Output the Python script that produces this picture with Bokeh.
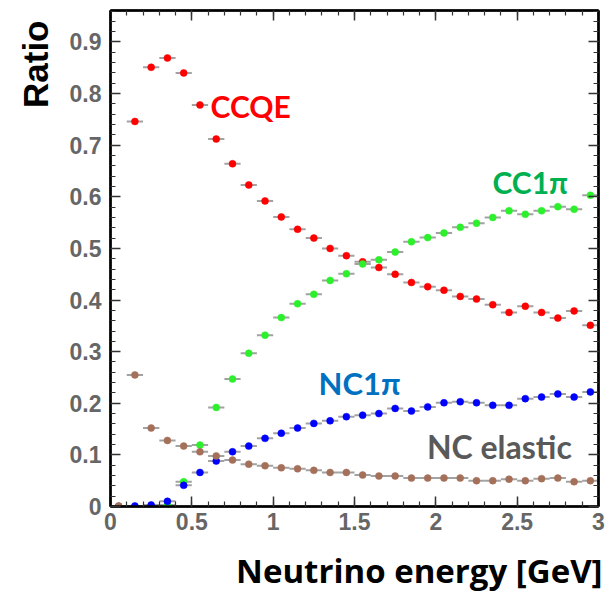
from bokeh.plotting import figure
from bokeh.models import (ColumnDataSource, Label, LinearAxis, SingleIntervalTicker,
                          NumeralTickFormatter, Range1d, Title)
from bokeh.embed import file_html
from bokeh.resources import INLINE

# ---------------- data ----------------
bin_width = 0.1
energy = [0.05, 0.15, 0.25, 0.35, 0.45, 0.55, 0.65, 0.75, 0.85, 0.95,
          1.05, 1.15, 1.25, 1.35, 1.45, 1.55, 1.65, 1.75, 1.85, 1.95,
          2.05, 2.15, 2.25, 2.35, 2.45, 2.55, 2.65, 2.75, 2.85, 2.95]

ccqe = [0.0, 0.746, 0.851, 0.869, 0.840, 0.778, 0.712, 0.664, 0.623, 0.592,
        0.561, 0.537, 0.520, 0.500, 0.486, 0.474, 0.463, 0.450, 0.434, 0.426,
        0.419, 0.407, 0.402, 0.391, 0.376, 0.388, 0.376, 0.365, 0.379, 0.351]

cc1pi = [0.0, 0.0, 0.0, 0.003, 0.048, 0.119, 0.192, 0.247, 0.297, 0.332,
         0.366, 0.393, 0.411, 0.438, 0.451, 0.470, 0.478, 0.493, 0.513, 0.521,
         0.530, 0.541, 0.549, 0.560, 0.573, 0.566, 0.573, 0.581, 0.576, 0.603]

nc1pi = [0.0, 0.001, 0.003, 0.010, 0.041, 0.066, 0.088, 0.106, 0.117, 0.132,
         0.142, 0.152, 0.161, 0.166, 0.174, 0.177, 0.180, 0.190, 0.185, 0.193,
         0.201, 0.203, 0.201, 0.196, 0.196, 0.209, 0.212, 0.218, 0.212, 0.222]

nc_elastic = [0.001, 0.255, 0.152, 0.128, 0.117, 0.106, 0.098, 0.090, 0.082, 0.079,
              0.075, 0.073, 0.070, 0.066, 0.066, 0.061, 0.059, 0.059, 0.055, 0.055,
              0.055, 0.055, 0.050, 0.050, 0.053, 0.050, 0.054, 0.055, 0.048, 0.050]

x_ticks = [0, 0.5, 1, 1.5, 2, 2.5, 3]
y_ticks = [0, 0.1, 0.2, 0.3, 0.4, 0.5, 0.6, 0.7, 0.8, 0.9]

series = [
    ("CCQE", ccqe, "#ff0000"),
    ("CC1π", cc1pi, "#2cf02c"),
    ("NC1π", nc1pi, "#0000ff"),
    ("NC elastic", nc_elastic, "#a4705a"),
]

# ---------------- figure ----------------
p = figure(width=608, height=607, output_backend="svg", toolbar_location=None,
           x_range=Range1d(0, 3), y_range=Range1d(0, 0.961),
           min_border_left=110, min_border_right=10, min_border_top=10,
           min_border_bottom=101, x_axis_type=None, y_axis_type=None)
p.background_fill_color = "white"
p.border_fill_color = "white"
p.outline_line_color = "black"
p.outline_line_width = 2
p.xgrid.visible = False
p.ygrid.visible = False

def style_axis(ax, show_labels):
    ax.axis_line_color = "black"
    ax.axis_line_width = 2.5
    ax.major_tick_in = 10
    ax.major_tick_out = 0
    ax.minor_tick_in = 5
    ax.minor_tick_out = 0
    ax.major_tick_line_color = "#333333"
    ax.minor_tick_line_color = "#333333"
    ax.major_tick_line_width = 1.5
    ax.minor_tick_line_width = 1.2
    if show_labels:
        ax.major_label_text_font = "Liberation Sans"
        ax.major_label_text_font_size = "23px"
        ax.major_label_text_font_style = "bold"
        ax.major_label_text_color = "#666666"
        ax.formatter = NumeralTickFormatter(format="0.[0]")
    else:
        ax.major_label_text_font_size = "0px"
        ax.major_label_text_alpha = 0
        ax.major_label_standoff = 0

xb = LinearAxis(ticker=SingleIntervalTicker(interval=0.5, num_minor_ticks=5))
style_axis(xb, True)
xb.major_label_standoff = 6
p.add_layout(xb, "below")

xt = LinearAxis(ticker=SingleIntervalTicker(interval=0.5, num_minor_ticks=5))
style_axis(xt, False)
p.add_layout(xt, "above")

yl = LinearAxis(ticker=SingleIntervalTicker(interval=0.1, num_minor_ticks=5))
style_axis(yl, True)
yl.major_label_standoff = 9
p.add_layout(yl, "left")

yr = LinearAxis(ticker=SingleIntervalTicker(interval=0.1, num_minor_ticks=5))
style_axis(yr, False)
p.add_layout(yr, "right")

# axis titles as Title panels: right-aligned x title, top-aligned y title
xtitle = Title(text="Neutrino energy [GeV]", align="right",
               text_font="Open Sans", text_font_size="33px", text_font_style="bold",
               text_color="black", standoff=27, offset=-4)
p.add_layout(xtitle, "below")

ytitle = Title(text="Ratio", align="right",
               text_font="Liberation Sans", text_font_size="35px",
               text_font_style="bold", text_color="black", standoff=23,
               offset=10)
p.add_layout(ytitle, "left")

# ---------------- data marks ----------------
for name, vals, color in series:
    src = ColumnDataSource(dict(
        x=energy, y=vals,
        x0=[e - bin_width / 2 for e in energy],
        x1=[e + bin_width / 2 for e in energy]))
    p.segment(x0="x0", y0="y", x1="x1", y1="y", source=src,
              line_color="#555555", line_width=2, line_alpha=0.55)
    p.scatter(x="x", y="y", source=src, size=7, marker="circle",
              fill_color=color, line_color=color, line_width=0.5)

# ---------------- annotations ----------------
anns = [
    ("CCQE", 0.776, 0.615, "#ff0000", "30px"),
    ("CC1π", 0.629, 2.348, "#00b050", "30px"),
    ("NC1π", 0.239, 1.279, "#0070c0", "31px"),
    ("NC elastic", 0.117, 1.945, "#595959", "32px"),
]
for txt, y, x, c, fs in anns:
    p.add_layout(Label(x=x, y=y, text=txt, text_font="Lato",
                       text_font_size=fs, text_font_style="bold",
                       text_color=c, text_align="left",
                       text_baseline="alphabetic"))

open("out.html", "w").write(file_html(p, INLINE))
